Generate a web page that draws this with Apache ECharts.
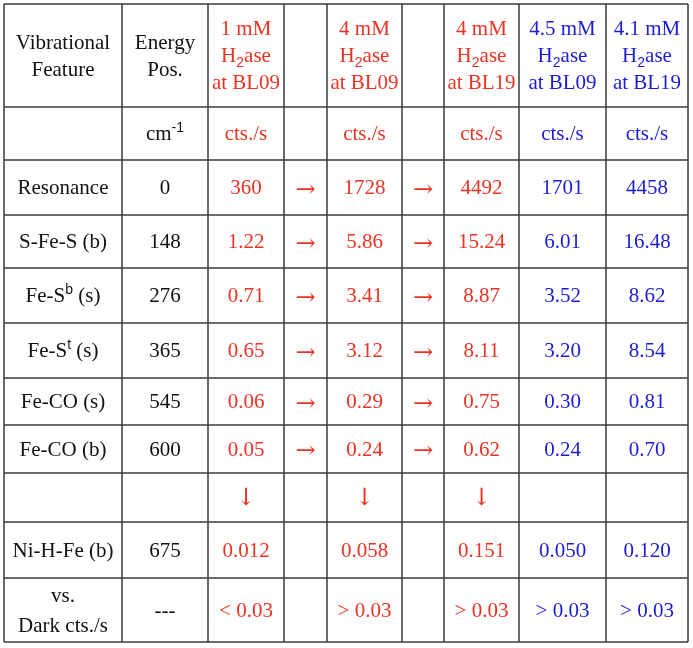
<!DOCTYPE html>
<html>
<head>
<meta charset="utf-8">
<script src="https://cdn.jsdelivr.net/npm/echarts@6/dist/echarts.min.js"></script>
<style>
  html, body { margin: 0; padding: 0; background: #fff; }
  #chart { width: 693px; height: 648px; }
</style>
</head>
<body>
<div id="chart"></div>
<script>
// table content
const headers = [
  'Vibrational\nFeature',
  'Energy\nPos.',
  '1 mM\nH{sub|2}ase\nat BL09',
  '',
  '4 mM\nH{sub|2}ase\nat BL09',
  '',
  '4 mM\nH{sub|2}ase\nat BL19',
  '4.5 mM\nH{sub|2}ase\nat BL09',
  '4.1 mM\nH{sub|2}ase\nat BL19',
]
const units = ['', 'cm{sup|-1}', 'cts./s', '', 'cts./s', '', 'cts./s', 'cts./s', 'cts./s']
const features = [
  'Resonance', 'S-Fe-S (b)', 'Fe-S{sup|b} (s)', 'Fe-S{sup|t} (s)',
  'Fe-CO (s)', 'Fe-CO (b)', '', 'Ni-H-Fe (b)', 'vs.\nDark cts./s',
]
const energyPos = ['0', '148', '276', '365', '545', '600', '', '675', '---']
const bl09_1mM = ['360', '1.22', '0.71', '0.65', '0.06', '0.05', '↓', '0.012', '< 0.03']
const arrowA = ['→', '→', '→', '→', '→', '→', '', '', '']
const bl09_4mM = ['1728', '5.86', '3.41', '3.12', '0.29', '0.24', '↓', '0.058', '> 0.03']
const arrowB = ['→', '→', '→', '→', '→', '→', '', '', '']
const bl19_4mM = ['4492', '15.24', '8.87', '8.11', '0.75', '0.62', '↓', '0.151', '> 0.03']
const bl09_45mM = ['1701', '6.01', '3.52', '3.20', '0.30', '0.24', '', '0.050', '> 0.03']
const bl19_41mM = ['4458', '16.48', '8.62', '8.54', '0.81', '0.70', '', '0.120', '> 0.03']

// layout
const colEdges = [4, 122, 208, 284, 327, 402, 444, 519, 606, 688]
const rowEdges = [4, 107, 160, 215, 268, 323, 378, 425, 473, 522, 578, 642]
const RED = '#ec3323'
const BLUE = '#1c1cd6'
const colColors = ['#111', '#111', RED, RED, RED, RED, RED, BLUE, BLUE]

const columns = [features, energyPos, bl09_1mM, arrowA, bl09_4mM, arrowB, bl19_4mM, bl09_45mM, bl19_41mM]

// cells: [col, row, text]
const cells = []
headers.forEach((t, c) => cells.push([c, 0, t]))
units.forEach((t, c) => cells.push([c, 1, t]))
columns.forEach((col, c) => {
  col.forEach((t, r) => cells.push([c, r + 2, t]))
})

// grid lines: [x0, y0, x1, y1]
const lines = []
colEdges.forEach((x) => lines.push([x, rowEdges[0], x, rowEdges[rowEdges.length - 1]]))
rowEdges.forEach((y) => lines.push([colEdges[0], y, colEdges[colEdges.length - 1], y]))

const myChart = echarts.init(document.getElementById('chart'))
myChart.setOption({
  backgroundColor: '#fff',
  animation: false,
  grid: { left: 0, right: 0, top: 0, bottom: 0 },
  xAxis: { type: 'value', min: 0, max: 693, show: false },
  yAxis: { type: 'value', min: 0, max: 648, inverse: true, show: false },
  series: [
    {
      type: 'custom',
      data: lines,
      renderItem(params, api) {
        const p0 = api.coord([api.value(0), api.value(1)])
        const p1 = api.coord([api.value(2), api.value(3)])
        return {
          type: 'line',
          shape: { x1: p0[0], y1: p0[1], x2: p1[0], y2: p1[1] },
          style: { stroke: '#3a3a3a', lineWidth: 1.5 },
        }
      },
    },
    {
      type: 'custom',
      data: cells,
      renderItem(params, api) {
        const c = api.value(0)
        const r = api.value(1)
        const text = cells[params.dataIndex][2]
        const cx = (colEdges[c] + colEdges[c + 1]) / 2
        const cy = (rowEdges[r] + rowEdges[r + 1]) / 2
        const p = api.coord([cx, cy])
        const isArrow = text === '→' || text === '↓'
        return {
          type: 'text',
          x: p[0],
          y: p[1] + (text === '→' ? 3 : 1),
          style: {
            text: text,
            fill: colColors[c],
            font: isArrow
              ? '24px "DejaVu Serif", serif'
              : '21px "Liberation Serif", "Times New Roman", serif',
            align: 'center',
            verticalAlign: 'middle',
            lineHeight: r === 10 ? 30 : 27,
            rich: {
              sub: { fontSize: 14, verticalAlign: 'bottom', lineHeight: 18, fill: colColors[c] },
              sup: { fontSize: 14, verticalAlign: 'top', lineHeight: 14, fill: colColors[c] },
            },
          },
        }
      },
    },
  ],
})
</script>
</body>
</html>
